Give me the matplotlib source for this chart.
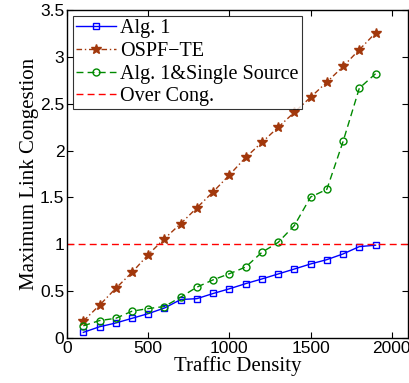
import matplotlib.pyplot as plt
import numpy as np

density = [100, 200, 300, 400, 500, 600, 700, 800, 900, 1000,
           1100, 1200, 1300, 1400, 1500, 1600, 1700, 1800, 1900]
alg1 = [0.06, 0.12, 0.16, 0.21, 0.26, 0.32, 0.41, 0.42, 0.475, 0.525,
        0.58, 0.63, 0.683, 0.736, 0.79, 0.836, 0.897, 0.975, 0.99]
ospf = [0.18, 0.35, 0.53, 0.70, 0.89, 1.06, 1.22, 1.39, 1.56, 1.74,
        1.926, 2.087, 2.248, 2.408, 2.569, 2.73, 2.897, 3.076, 3.255]
single = [0.13, 0.186, 0.21, 0.286, 0.314, 0.336, 0.436, 0.543, 0.621, 0.686,
          0.757, 0.914, 1.02, 1.2, 1.504, 1.586, 2.097, 2.665, 2.82]
over_cong = 1.0

serif = ['Liberation Serif', 'DejaVu Serif']
sans = ['Liberation Sans', 'DejaVu Sans']

fig = plt.figure(figsize=(4.09, 3.83), dpi=100)
ax = fig.add_axes([0.164, 0.1175, 0.8336, 0.8565])

ax.plot(density, alg1, color='#0000ff', marker='s', markersize=4.5,
        markerfacecolor='none', markeredgewidth=1.0, lw=1.0, label='Alg. 1')
ax.plot(density, ospf, color='#a2380c', marker='*', markersize=7.5,
        linestyle='-.', dashes=(4, 2, 1, 2), lw=1.0, label='OSPF\u2212TE')
ax.plot(density, single, color='#008a00', marker='o', markersize=5,
        markerfacecolor='none', markeredgewidth=1.0, linestyle='--',
        dashes=(5, 3), lw=1.0, label='Alg. 1&Single Source')
ax.axhline(over_cong, color='#ff0000', linestyle='--', dashes=(5, 3), lw=1.0,
           label='Over Cong.')

ax.set_xlim(0, 2100)
ax.set_ylim(0, 3.5)
ax.set_xticks([0, 500, 1000, 1500, 2000])
ax.set_yticks(np.arange(0, 3.51, 0.5))
ax.set_yticklabels(['0', '0.5', '1', '1.5', '2', '2.5', '3', '3.5'])
ax.tick_params(direction='in', top=True, right=True, labelsize=12.5, width=0.8,
               length=4, pad=2)
for lab in ax.get_xticklabels() + ax.get_yticklabels():
    lab.set_family(sans)
for s in ax.spines.values():
    s.set_linewidth(1.0)

ax.set_xlabel('Traffic Density', family=serif, fontsize=15, labelpad=0)
ax.set_ylabel('Maximum Link Congestion', family=serif, fontsize=15, labelpad=1)

leg = ax.legend(loc='upper left', prop={'family': serif, 'size': 14.5},
                frameon=True, fancybox=False, edgecolor='black',
                borderpad=0.15, labelspacing=0.18, handlelength=2.0,
                handletextpad=0.2, borderaxespad=0.3)
leg.get_frame().set_linewidth(0.8)

fig.savefig('out.png', dpi=100)
